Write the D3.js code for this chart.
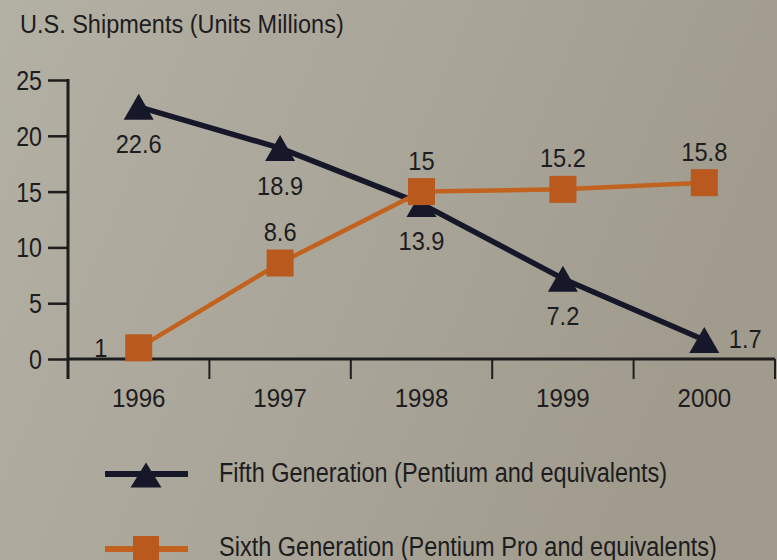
<!DOCTYPE html>
<html>
<head>
<meta charset="utf-8">
<script src="https://cdn.jsdelivr.net/npm/d3@7"></script>
<style>
  html, body { margin: 0; padding: 0; }
  body { width: 777px; height: 560px; overflow: hidden; }
  text { font-family: "Liberation Sans", Arial, sans-serif; fill: #1d1c1f; }
</style>
</head>
<body>
<svg id="chart" width="777" height="560"></svg>
<script>
// Shipment data, units in millions
const years = ["1996", "1997", "1998", "1999", "2000"];
const fifthGen = [22.6, 18.9, 13.9, 7.2, 1.7];
const sixthGen = [1, 8.6, 15, 15.2, 15.8];
const yTicks = [0, 5, 10, 15, 20, 25];
const titleText = "U.S. Shipments (Units Millions)";
const seriesNames = [
  "Fifth Generation (Pentium and equivalents)",
  "Sixth Generation (Pentium Pro and equivalents)"
];

const W = 777, H = 560;
const navy = "#17172a";
const orange = "#b9591d";
const orangeLine = "#c2621f";

const svg = d3.select("#chart");

// paper-like background
const defs = svg.append("defs");
const grad = defs.append("linearGradient").attr("id", "bg")
  .attr("x1", "0").attr("y1", "0").attr("x2", "1").attr("y2", "0.3");
grad.append("stop").attr("offset", "0").attr("stop-color", "#b3b0a4");
grad.append("stop").attr("offset", "0.55").attr("stop-color", "#a9a598");
grad.append("stop").attr("offset", "1").attr("stop-color", "#a09b8d");
svg.append("rect").attr("width", W).attr("height", H).attr("fill", "url(#bg)");

const x = d3.scaleBand().domain(years).range([68, 775]).padding(0);
const y = d3.scaleLinear().domain([0, 25]).range([359, 80]);
const cx = d => x(d) + x.bandwidth() / 2;

// condensed text helper
function label(g, txt, px, py, size, anchor, sx) {
  return g.append("text")
    .attr("transform", `translate(${px},${py}) scale(${sx},1)`)
    .attr("text-anchor", anchor)
    .style("font-size", size + "px")
    .text(txt);
}

// title
label(svg, titleText, 20, 33, 25, "start", 0.94);

// y axis
const yAxis = d3.axisLeft(y).tickValues(yTicks).tickSize(20).tickFormat("");
const gy = svg.append("g").attr("transform", "translate(68,0)").call(yAxis);
gy.select(".domain").remove();
gy.selectAll(".tick line").attr("stroke", "#1d1c1f").attr("stroke-width", 2.5);
svg.append("line").attr("x1", 68).attr("x2", 68).attr("y1", y(25) - 1).attr("y2", 379)
  .attr("stroke", "#1d1c1f").attr("stroke-width", 3);
yTicks.forEach(t => label(svg, String(t), 42, y(t) + 10, 27, "end", 0.86));

// x axis with ticks at the category boundaries
const boundaries = years.map(d => x(d)).concat([x.range()[1]]);
svg.append("line").attr("x1", 68).attr("x2", 775).attr("y1", 359).attr("y2", 359)
  .attr("stroke", "#1d1c1f").attr("stroke-width", 3);
svg.selectAll(".xtick").data(boundaries.slice(1)).join("line").attr("class", "xtick")
  .attr("x1", d => d).attr("x2", d => d).attr("y1", 359).attr("y2", 379)
  .attr("stroke", "#1d1c1f").attr("stroke-width", 2);
years.forEach(yr => label(svg, yr, cx(yr), 407, 26.5, "middle", 0.91));

// marker shapes
const triPath = (w, h) => `M0,${-h / 2}L${w / 2},${h / 2}L${-w / 2},${h / 2}Z`;
function drawTri(g, px, py) {
  g.append("path").attr("d", triPath(30, 26)).attr("transform", `translate(${px},${py})`)
    .attr("fill", navy);
}
function drawSq(g, px, py) {
  g.append("rect").attr("x", px - 13.5).attr("y", py - 13.5).attr("width", 27).attr("height", 27)
    .attr("fill", orange);
}

const line = d3.line().x((d, i) => cx(years[i])).y(d => y(d));

// fifth generation series
const g5 = svg.append("g");
g5.append("path").datum(fifthGen).attr("d", line).attr("fill", "none")
  .attr("stroke", navy).attr("stroke-width", 5.5).attr("stroke-linejoin", "round");
fifthGen.forEach((v, i) => drawTri(g5, cx(years[i]), y(v)));

// sixth generation series
const g6 = svg.append("g");
g6.append("path").datum(sixthGen).attr("d", line).attr("fill", "none")
  .attr("stroke", orangeLine).attr("stroke-width", 4.5).attr("stroke-linejoin", "round");
sixthGen.forEach((v, i) => drawSq(g6, cx(years[i]), y(v)));

// value labels (placement: below / above / left / right of the marker)
const fifthPlace = ["below", "below", "below", "below", "right"];
const sixthPlace = ["left", "above", "above", "above", "above"];
function placeLabel(v, i, where) {
  let px = cx(years[i]), py = y(v);
  if (where === "below") py += 37;
  if (where === "above") py -= 31.5;
  if (where === "right") { px += 41; py -= 2; }
  if (where === "left") { px -= 38; }
  label(svg, String(v), px, py + 9.5, 26, "middle", 0.91);
}
fifthGen.forEach((v, i) => placeLabel(v, i, fifthPlace[i]));
sixthGen.forEach((v, i) => placeLabel(v, i, sixthPlace[i]));

// legend
const lg = svg.append("g");
lg.append("line").attr("x1", 105).attr("x2", 188).attr("y1", 474).attr("y2", 474)
  .attr("stroke", navy).attr("stroke-width", 6);
lg.append("path").attr("d", triPath(31, 25)).attr("transform", "translate(146,475)").attr("fill", navy);
label(lg, seriesNames[0], 219, 482, 28, "start", 0.84);

lg.append("line").attr("x1", 105).attr("x2", 188).attr("y1", 549).attr("y2", 549)
  .attr("stroke", orangeLine).attr("stroke-width", 6);
lg.append("rect").attr("x", 133).attr("y", 536).attr("width", 26).attr("height", 26).attr("fill", orange);
label(lg, seriesNames[1], 219, 556, 28, "start", 0.84);
</script>
</body>
</html>
